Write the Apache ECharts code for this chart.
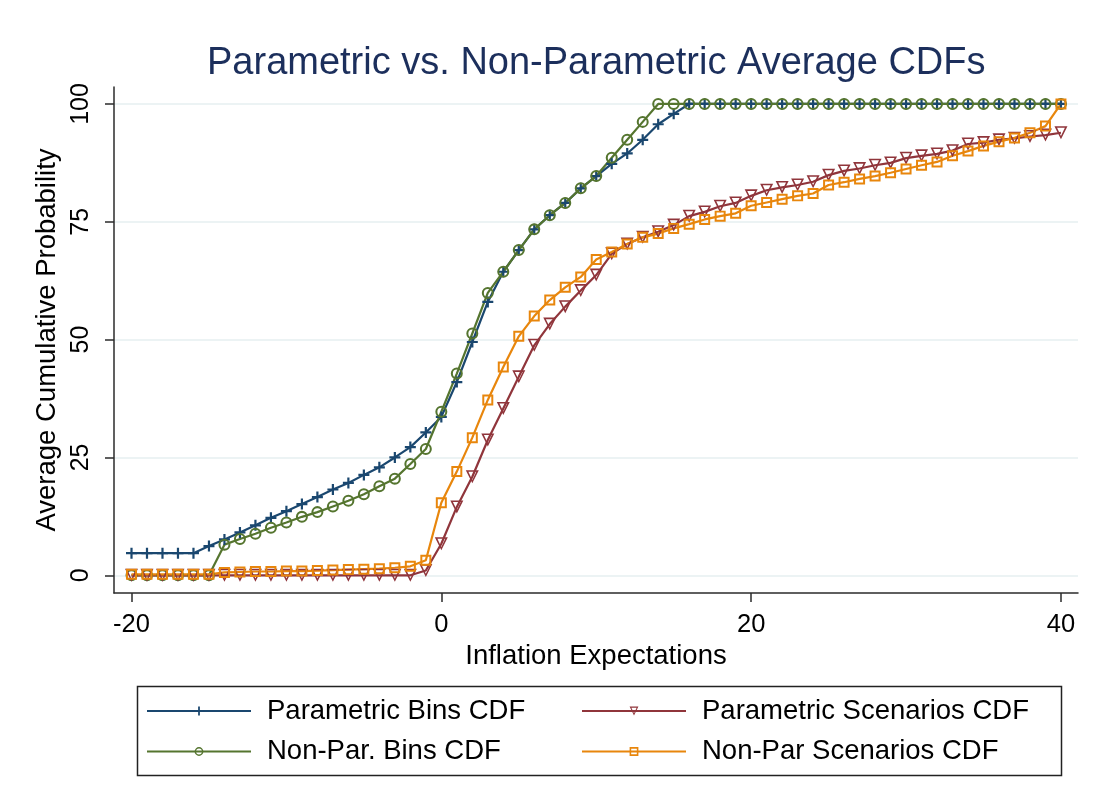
<!DOCTYPE html>
<html>
<head>
<meta charset="utf-8">
<script src="https://cdn.jsdelivr.net/npm/echarts@6/dist/echarts.min.js"></script>
<style>html,body{margin:0;padding:0;background:#fff;}#c{width:1099px;height:807px;}</style>
</head>
<body>
<div id="c"></div>
<script>
const xs = [-20,-19,-18,-17,-16,-15,-14,-13,-12,-11,-10,-9,-8,-7,-6,-5,-4,-3,-2,-1,0,1,2,3,4,5,6,7,8,9,10,11,12,13,14,15,16,17,18,19,20,21,22,23,24,25,26,27,28,29,30,31,32,33,34,35,36,37,38,39,40];

const paramBins = [4.7,4.7,4.7,4.7,4.7,6.2,7.6,9.1,10.6,12.2,13.6,15.1,16.6,18.2,19.6,21.3,22.9,25.0,27.2,30.3,33.6,41.0,49.5,58.0,64.4,69.0,73.4,76.4,79.0,82.1,84.7,87.3,89.5,92.4,95.7,97.9,100,100,100,100,100,100,100,100,100,100,100,100,100,100,100,100,100,100,100,100,100,100,100,100,100];

const nonParBins = [0,0,0,0,0,0,6.5,7.7,8.8,10.1,11.2,12.4,13.4,14.6,15.8,17.2,18.9,20.5,23.6,26.8,34.7,42.8,51.3,59.9,64.4,69.0,73.4,76.4,79.0,82.1,84.7,88.6,92.4,96.2,100,100,100,100,100,100,100,100,100,100,100,100,100,100,100,100,100,100,100,100,100,100,100,100,100,100,100];

const paramScen = [0,0,0,0,0,0,0,0,0,0,0,0,0,0,0,0,0,0,0,1.0,6.7,14.5,20.9,28.7,35.4,42.1,48.8,53.3,57.0,60.4,63.7,68.2,70.3,71.7,72.9,74.3,76.2,77.1,78.3,79.0,80.5,81.7,82.3,82.8,83.5,84.9,85.8,86.3,87.0,87.5,88.5,89.0,89.4,90.1,91.5,91.8,92.4,92.7,93.1,93.4,93.9];

const nonParScen = [0.2,0.2,0.2,0.2,0.2,0.2,0.6,0.7,0.8,0.8,0.9,0.9,1.0,1.1,1.2,1.3,1.4,1.6,1.9,3.2,15.4,22.0,29.2,37.2,44.2,50.7,55.0,58.4,61.1,63.3,67.0,68.6,70.3,71.7,72.5,73.6,74.5,75.5,76.2,76.8,78.4,79.1,79.8,80.5,81.0,82.8,83.4,84.1,84.7,85.4,86.2,87.0,87.7,89.0,90.0,91.1,92.0,92.8,93.9,95.3,100];

const xTicks = [-20,0,20,40];
const yTicks = [0,25,50,75,100];

const seriesNames = ['Parametric Bins CDF','Non-Par. Bins CDF','Parametric Scenarios CDF','Non-Par Scenarios CDF'];
const seriesColors = ['#1a476f','#55752f','#90353b','#e8860c'];

const FONT = 'Liberation Sans, Arial, Helvetica, sans-serif';

const SYM_PLUS = 'path://M4,0 H6 V4 H10 V6 H6 V10 H4 V6 H0 V4 H4 Z';
const SYM_RING = 'path://M5,0 A5,5 0 1,1 5,10 A5,5 0 1,1 5,0 Z M5,1.7 A3.3,3.3 0 1,0 5,8.3 A3.3,3.3 0 1,0 5,1.7 Z';
const SYM_TRI = 'path://M0,0 L10,0 L5,9 Z M2,1.1 L5,6.7 L8,1.1 Z';
const SYM_SQ = 'path://M0,0 H10 V10 H0 Z M1.8,1.8 V8.2 H8.2 V1.8 Z';

function pairs(vals){ return xs.map((x,i)=>[x,vals[i]]); }

function mk(name, vals, color, sym, size){
  return {
    name: name, type: 'line', data: pairs(vals),
    symbol: sym, symbolSize: size, showAllSymbol: true,
    lineStyle: {color: color, width: 2.2},
    itemStyle: {color: color},
    emphasis: {disabled: true},
    animation: false
  };
}

const chart = echarts.init(document.getElementById('c'), null, {renderer:'canvas'});
chart.setOption({
  backgroundColor: '#ffffff',
  animation: false,
  title: {
    text: 'Parametric vs. Non-Parametric Average CDFs',
    left: 202, top: 40, padding: 5,
    textStyle: {fontFamily: FONT, fontSize: 38, fontWeight: 'normal', color: '#1c2f5c'}
  },
  grid: {left: 114, right: 21, top: 87, bottom: 214, containLabel: false},
  xAxis: {
    type: 'value', min: -21.13, max: 41.1,
    name: 'Inflation Expectations', nameLocation: 'middle', nameGap: 46,
    nameTextStyle: {fontFamily: FONT, fontSize: 27.5, color: '#000'},
    axisLine: {show: true, onZero: false, lineStyle: {color: '#2b2b2b', width: 1.5}},
    axisTick: {show: true, length: 9, customValues: xTicks, lineStyle: {color: '#2b2b2b', width: 1.5}},
    axisLabel: {customValues: xTicks, margin: 19, fontFamily: FONT, fontSize: 25.5, color: '#000'},
    splitLine: {show: false}
  },
  yAxis: {
    type: 'value', min: -3.76, max: 103.6,
    name: 'Average Cumulative Probability', nameLocation: 'middle', nameGap: 48,
    nameTextStyle: {fontFamily: FONT, fontSize: 27.5, color: '#000'},
    axisLine: {show: true, onZero: false, lineStyle: {color: '#2b2b2b', width: 1.5}},
    axisTick: {show: true, length: 9, customValues: yTicks, lineStyle: {color: '#2b2b2b', width: 1.5}},
    axisLabel: {customValues: yTicks, rotate: 90, margin: 20, fontFamily: FONT, fontSize: 25, color: '#000'},
    splitLine: {show: true, lineStyle: {color: '#e6eff1', width: 1.5}}
  },
  legend: [
    {
      data: [seriesNames[0], seriesNames[1]],
      orient: 'vertical', left: 141, top: 692,
      itemWidth: 104, itemHeight: 11, itemGap: 12.5,
      textStyle: {fontFamily: FONT, fontSize: 27.5, color: '#000', padding: [0,0,0,11]},
      selectedMode: false
    },
    {
      data: [seriesNames[2], seriesNames[3]],
      orient: 'vertical', left: 576, top: 692,
      itemWidth: 104, itemHeight: 11, itemGap: 12.5,
      textStyle: {fontFamily: FONT, fontSize: 27.5, color: '#000', padding: [0,0,0,11]},
      selectedMode: false
    }
  ],
  graphic: [{
    type: 'rect', left: 135, top: 684, silent: true,
    shape: {width: 924, height: 89},
    style: {fill: 'none', stroke: '#222', lineWidth: 1.5}
  }],
  series: [
    mk(seriesNames[0], paramBins, seriesColors[0], SYM_PLUS, 11),
    mk(seriesNames[1], nonParBins, seriesColors[1], SYM_RING, 12),
    mk(seriesNames[2], paramScen, seriesColors[2], SYM_TRI, 13),
    mk(seriesNames[3], nonParScen, seriesColors[3], SYM_SQ, 11)
  ]
});
</script>
</body>
</html>
